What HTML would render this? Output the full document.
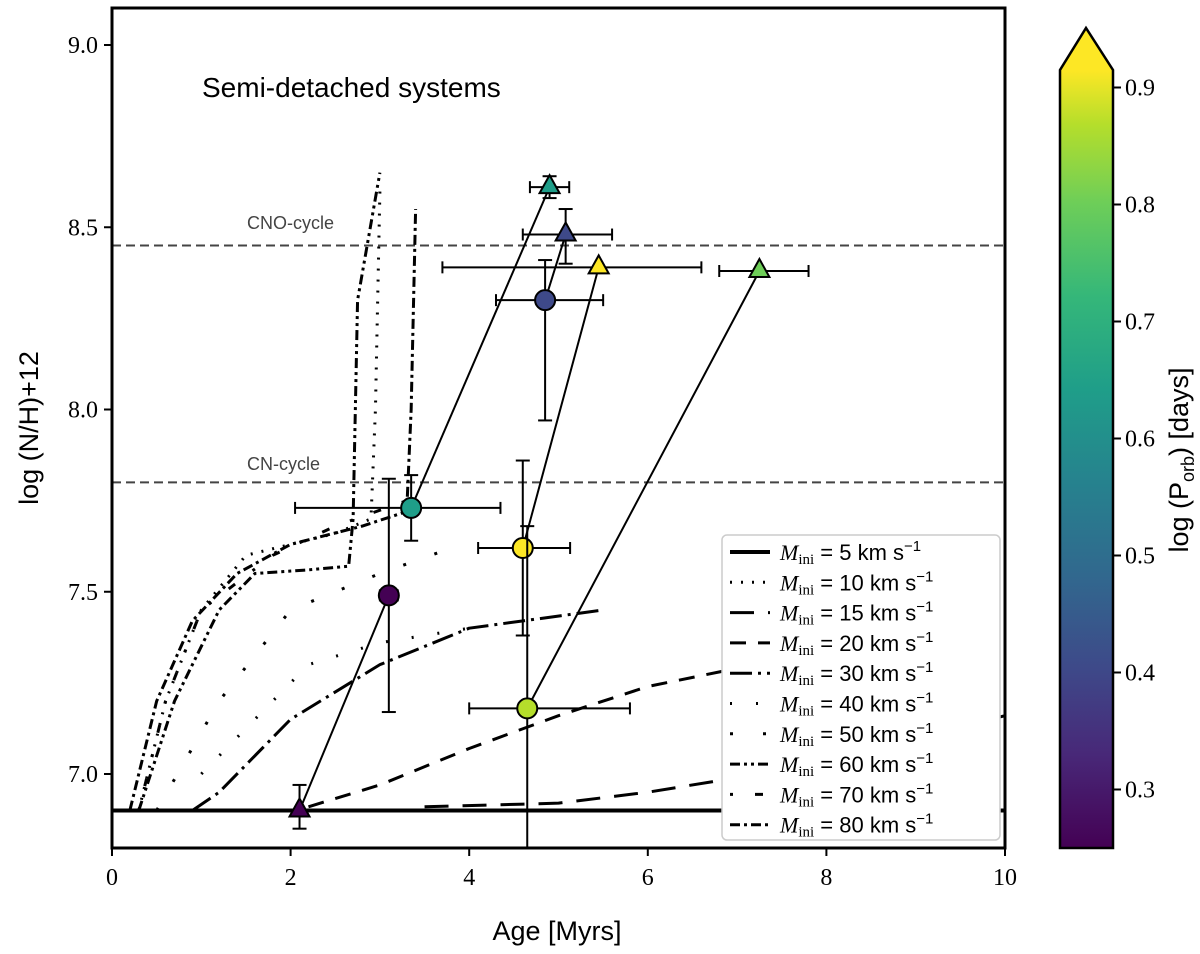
<!DOCTYPE html>
<html><head><meta charset="utf-8">
<style>
body{margin:0;background:#fff;}
svg text{font-family:"Liberation Sans",sans-serif;}
.ser{font-family:"Liberation Serif",serif;}
</style></head>
<body>
<svg id="chart" width="1200" height="949" xmlns="http://www.w3.org/2000/svg">
<defs>
<linearGradient id="vir" x1="0" y1="1" x2="0" y2="0">
<stop offset="0" stop-color="#440154"/><stop offset="0.12" stop-color="#482878"/><stop offset="0.23" stop-color="#3e4989"/><stop offset="0.35" stop-color="#31688e"/><stop offset="0.47" stop-color="#26828e"/><stop offset="0.59" stop-color="#1f9e89"/><stop offset="0.71" stop-color="#35b779"/><stop offset="0.83" stop-color="#6ece58"/><stop offset="0.93" stop-color="#b5de2b"/><stop offset="1" stop-color="#fde725"/>
</linearGradient>
<clipPath id="pc"><rect x="112" y="8" width="893" height="840"/></clipPath>
</defs>
<g id="plot" clip-path="url(#pc)"></g>
<rect x="112" y="8" width="893" height="840" fill="none" stroke="#000" stroke-width="3"/>
<g id="axes"></g>
<text x="202" y="97" font-size="28">Semi-detached systems</text>
<text x="557" y="940" font-size="27" text-anchor="middle">Age [Myrs]</text>
<text transform="translate(38,428) rotate(-90)" font-size="27" text-anchor="middle">log (N/H)+12</text>
<text x="247" y="229" font-size="18" fill="#444">CNO-cycle</text>
<text x="247" y="470" font-size="18" fill="#444">CN-cycle</text>
<g id="legend"></g>
<g id="cbar">
<rect x="1060" y="70" width="53" height="778" fill="url(#vir)"/>
<polygon points="1060,70 1086,28 1113,70" fill="#fde725"/>
<polygon points="1060,848 1060,70 1086,28 1113,70 1113,848" fill="none" stroke="#000" stroke-width="2.5"/>
</g>
<text transform="translate(1188,460) rotate(-90)" font-size="27" text-anchor="middle">log (P<tspan font-size="18" dy="6">orb</tspan><tspan dy="-6">) [days]</tspan></text>
</svg>
<script>
const xTicks=[0,2,4,6,8,10];
const yTicks=[7.0,7.5,8.0,8.5,9.0];
const cTicks=[0.3,0.4,0.5,0.6,0.7,0.8,0.9];
const cnoLevel=8.45, cnLevel=7.8;
const curveLabels=["5","10","15","20","30","40","50","60","70","80"];
const curveDash=["","2 9","24 14","16 12","22 6 3 6","2 24","3 30","10 4 3 4 3 4","3 22 8 22","10 4 3 4"];
const curveWidth=[4,3,3,3,3,3,3,3,3,3];
const curveAge=[
 [0,10],
 [0.3,0.6,1,1.5,2.5,2.9,2.95,3.0],
 [3.5,5,6,7,8,9,10],
 [2.2,3,4,5,6,7,8,9],
 [0.9,1.2,2,3,4,5.5],
 [1.0,1.6,2.2,3,4],
 [0.5,1.2,2,3,3.8],
 [0.3,0.7,1.2,1.6,2.2,2.65,2.7,2.75,3.0],
 [0.3,0.6,1.0,1.8,2.5,3.3],
 [0.2,0.5,0.9,1.4,2,2.8,3.3,3.35,3.4]];
const curveN=[
 [6.9,6.9],
 [6.9,7.2,7.45,7.6,7.66,7.7,8.0,8.6],
 [6.91,6.92,6.95,6.99,7.05,7.1,7.16],
 [6.91,6.97,7.07,7.16,7.24,7.29,7.33,7.36],
 [6.9,6.95,7.15,7.3,7.4,7.45],
 [7.0,7.15,7.3,7.36,7.4],
 [6.9,7.2,7.45,7.55,7.62],
 [6.9,7.2,7.45,7.55,7.56,7.57,7.7,8.3,8.65],
 [6.9,7.2,7.45,7.6,7.68,7.75],
 [6.9,7.2,7.42,7.55,7.63,7.68,7.72,8.0,8.55]];
const ptAge=[3.1,3.35,4.6,4.65,4.85,2.1,4.9,5.08,5.45,7.25];
const ptN=[7.49,7.73,7.62,7.18,8.3,6.9,8.61,8.48,8.39,8.38];
const ptXlo=[0.1,1.3,0.5,0.65,0.55,0,0.22,0.48,1.75,0.45];
const ptXhi=[0.1,1.0,0.53,1.15,0.65,0,0.22,0.52,1.15,0.55];
const ptYlo=[0.32,0.09,0.24,0.7,0.33,0.05,0.03,0.08,0,0];
const ptYhi=[0.32,0.09,0.24,0.5,0.11,0.07,0.03,0.07,0,0];
const ptP=[0.27,0.6,0.93,0.83,0.4,0.27,0.6,0.42,0.93,0.8];
const ptShape=["c","c","c","c","c","t","t","t","t","t"];
const pairs=[[5,0],[1,6],[2,8],[3,9],[4,7]];

const NS="http://www.w3.org/2000/svg";
const X=v=>112+v*89.3, Y=v=>774-(v-7)*364.5, C=v=>848-(v-0.25)*1170;
function mk(tag,attrs,parent){const e=document.createElementNS(NS,tag);for(const k in attrs)e.setAttribute(k,attrs[k]);parent.appendChild(e);return e;}
const vir=["#440154","#482878","#3e4989","#31688e","#26828e","#1f9e89","#35b779","#6ece58","#b5de2b","#fde725"];
function col(v){let t=(v-0.25)/0.67;t=Math.max(0,Math.min(1,t));return vir[Math.round(t*9)];}
const plot=document.getElementById('plot'),axes=document.getElementById('axes'),leg=document.getElementById('legend'),cb=document.getElementById('cbar');
[[cnoLevel,'cno-line'],[cnLevel,'cn-line']].forEach(([v,n])=>{const l=mk('line',{x1:112,x2:1005,y1:Y(v),y2:Y(v),stroke:'#444','stroke-width':2,'stroke-dasharray':'9 5'},plot);

});
curveAge.forEach((a,i)=>{const p=mk('polyline',{points:a.map((x,j)=>X(x)+','+Y(curveN[i][j])).join(' '),fill:'none',stroke:'#000','stroke-width':curveWidth[i],'stroke-dasharray':curveDash[i],'stroke-linejoin':'round'},plot);

});
pairs.forEach(([a,b])=>{const l=mk('line',{x1:X(ptAge[a]),y1:Y(ptN[a]),x2:X(ptAge[b]),y2:Y(ptN[b]),stroke:'#000','stroke-width':2},plot);

});
ptAge.forEach((a,i)=>{const g=mk('g',{},plot);


const x=X(a),y=Y(ptN[i]);
if(ptXlo[i]+ptXhi[i]>0){const xa=X(a-ptXlo[i]),xb=X(a+ptXhi[i]);mk('line',{x1:xa,x2:xb,y1:y,y2:y,stroke:'#000','stroke-width':2},g);
[xa,xb].forEach(xx=>mk('line',{x1:xx,x2:xx,y1:y-6,y2:y+6,stroke:'#000','stroke-width':2},g));}
if(ptYlo[i]+ptYhi[i]>0){const y1=Y(ptN[i]+ptYhi[i]),y2=Y(ptN[i]-ptYlo[i]);mk('line',{x1:x,x2:x,y1:y1,y2:y2,stroke:'#000','stroke-width':2},g);
[y1,y2].forEach(yy=>mk('line',{x1:x-7,x2:x+7,y1:yy,y2:yy,stroke:'#000','stroke-width':2},g));}
if(ptShape[i]=='c')mk('circle',{cx:x,cy:y,r:10,fill:col(ptP[i]),stroke:'#000','stroke-width':2},g);
else mk('polygon',{points:`${x},${y-12} ${x+10},${y+6} ${x-10},${y+6}`,fill:col(ptP[i]),stroke:'#000','stroke-width':2},g);});
xTicks.forEach(v=>{mk('line',{x1:X(v),x2:X(v),y1:848,y2:856,stroke:'#000','stroke-width':2},axes);
const t=mk('text',{x:X(v),y:885,'font-size':24,'text-anchor':'middle',class:'ser'},axes);t.textContent=v;

});
yTicks.forEach(v=>{mk('line',{x1:104,x2:112,y1:Y(v),y2:Y(v),stroke:'#000','stroke-width':2},axes);
const t=mk('text',{x:98,y:Y(v)+8,'font-size':24,'text-anchor':'end',class:'ser'},axes);t.textContent=v.toFixed(1);

});
cTicks.forEach(v=>{mk('line',{x1:1113,x2:1121,y1:C(v),y2:C(v),stroke:'#000','stroke-width':2},cb);
const t=mk('text',{x:1125,y:C(v)+8,'font-size':24,class:'ser'},cb);t.textContent=v.toFixed(1);

});
mk('rect',{x:722,y:535,width:278,height:305,rx:5,fill:'#fff',stroke:'#ccc','stroke-width':1.5},leg);
curveLabels.forEach((l,i)=>{const y=552+i*30.3;
const ln=mk('line',{x1:730,x2:770,y1:y,y2:y,stroke:'#000','stroke-width':curveWidth[i],'stroke-dasharray':curveDash[i]},leg);


const t=mk('text',{x:780,y:y+8,'font-size':22},leg);
t.innerHTML='<tspan font-family="Liberation Serif" font-style="italic">M</tspan><tspan font-family="Liberation Serif" font-size="15" dy="4">ini</tspan><tspan dy="-4"> = '+l+' km s</tspan><tspan font-size="15" dy="-9">−1</tspan>';

});
</script>
</body></html>
